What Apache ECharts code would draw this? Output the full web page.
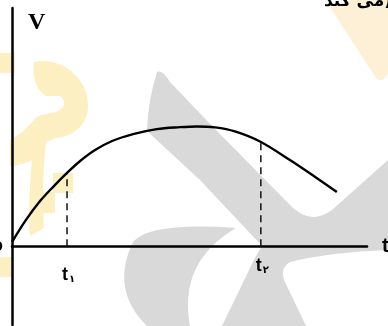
<!DOCTYPE html>
<html>
<head>
<meta charset="utf-8">
<script src="https://cdn.jsdelivr.net/npm/echarts@6/dist/echarts.min.js"></script>
<style>
  html, body { margin: 0; padding: 0; background: #fff; }
  #chart { width: 388px; height: 326px; }
</style>
</head>
<body>
<div id="chart"></div>
<script>
// Velocity–time curve: rises, peaks, then falls
var times = [0, 3.7, 7.9, 11.8, 15.5, 19.2, 23.4, 28.2, 34.1, 40.8, 47.3, 52.1, 57.2, 62.8, 70.1, 78.3, 85.4, 91.5];
var speeds = [1.8, 10.6, 19.0, 25.3, 30.8, 35.8, 40.4, 44.2, 47.1, 49.2, 50.0, 50.3, 49.9, 48.2, 43.8, 36.2, 29.1, 22.8];

// Marked instants t1 and t2 (indices into the arrays above)
var markedIdx = [4, 14];
var markedNames = ['۱', '۲'];

var chart = echarts.init(document.getElementById('chart'), null, { renderer: 'canvas' });

var curve = times.map(function (t, i) { return [t, speeds[i]]; });

var dashed = markedIdx.map(function (k) {
  return {
    type: 'line',
    data: [[times[k], 0], [times[k], speeds[k]]],
    symbol: 'none',
    silent: true,
    z: 5,
    lineStyle: { color: '#111', width: 1.5, type: [7, 5] }
  };
});

// Faint background logo shapes (page pixel paths)
var GRAY = '#d9d9d9', YELLOW = '#fcf0c2', PEACH = '#fdf0d6';
var logoShapes = [
  [GRAY, 'M157,72 C162,70 166,76 170,82 L213,127 L290,205 Q310,226 332,210 L388,160 L388,250 ' +
         'Q330,252 290,262 Q280,268 284,280 L306,326 L222,326 L250,268 Q256,255 262,246 ' +
         'L200,180 L147,131 Q148,100 157,72 Z'],
  [GRAY, 'M133,242 Q150,222 236,228 Q178,262 190,326 L147,326 Q110,290 133,242 Z'],
  [PEACH, 'M330,7 L352,0 L388,0 L388,74 Q382,84 376,78 Z'],
  [YELLOW, 'M0,53 L15,53 L15,73 L0,73 Z'],
  [YELLOW, 'M34,62 C60,56 90,78 88,108 C86,128 72,136 56,138 L46,142 C44,160 42,190 44,228 ' +
           'L30,236 C28,210 30,180 32,160 C24,164 16,166 10,166 L10,140 C22,134 30,124 38,116 ' +
           'L56,112 C66,108 66,100 60,96 L46,96 C36,90 32,78 34,62 Z'],
  [YELLOW, 'M53,173 L73,173 L73,193 L55,193 L55,213 L35,213 L35,192 L53,192 Z'],
  [YELLOW, 'M0,257 L13,257 L13,277 L0,277 Z']
];

var logoSeries = {
  type: 'custom',
  coordinateSystem: 'none',
  silent: true,
  z: 1,
  data: [0],
  renderItem: function () {
    return {
      type: 'group',
      children: logoShapes.map(function (s) {
        return { type: 'path', shape: { pathData: s[1] }, style: { fill: s[0] } };
      })
    };
  }
};

chart.setOption({
  animation: false,
  backgroundColor: '#fff',
  grid: { left: 12, right: 21, top: 8, bottom: 1 },
  xAxis: {
    type: 'value', min: 0, max: 100, z: 5,
    axisLine: { onZero: true, lineStyle: { color: '#000', width: 2.5 } },
    axisTick: { show: false }, axisLabel: { show: false }, splitLine: { show: false }
  },
  yAxis: {
    type: 'value', min: -33, max: 100, z: 5,
    axisLine: { lineStyle: { color: '#000', width: 2.5 } },
    axisTick: { show: false }, axisLabel: { show: false }, splitLine: { show: false }
  },
  series: [logoSeries, {
    type: 'line',
    data: curve,
    smooth: 0.35,
    symbol: 'none',
    z: 6,
    lineStyle: { color: '#000', width: 2.4 }
  }].concat(dashed)
});

// Text labels placed from the data positions
var labelEls = [];
markedIdx.forEach(function (k, i) {
  var p = chart.convertToPixel({ gridIndex: 0 }, [times[k], 0]);
  labelEls.push({
    type: 'text', z: 10,
    x: p[0] - 5, y: p[1] + (i === 0 ? 20 : 11),
    style: {
      text: '{t|t}{s|' + markedNames[i] + '}',
      rich: {
        t: { fontFamily: 'Liberation Sans', fontWeight: 'bold', fontSize: 18, fill: '#000' },
        s: { fontFamily: 'DejaVu Sans', fontWeight: 'bold', fontSize: 10, fill: '#000',
             padding: [8, 0, 0, 1] }
      }
    }
  });
});

var origin = chart.convertToPixel({ gridIndex: 0 }, [0, 0]);
labelEls.push(
  { type: 'text', z: 10, x: 28, y: 11,
    style: { text: 'V', fontFamily: 'Liberation Serif', fontWeight: 'bold', fontSize: 24, fill: '#000' } },
  { type: 'text', z: 10, x: origin[0] - 9, y: origin[1] - 6,
    style: { text: 'O', fontFamily: 'Liberation Serif', fontWeight: 'bold', fontSize: 14, fill: '#000', align: 'right' } },
  { type: 'text', z: 10, x: 382, y: origin[1] - 10,
    style: { text: 't', fontFamily: 'Liberation Sans', fontWeight: 'bold', fontSize: 20, fill: '#000' } },
  { type: 'text', z: 10, x: 392, y: -7,
    style: { text: 'می کند)', fontFamily: 'DejaVu Sans', fontWeight: 'bold', fontSize: 17, fill: '#000', align: 'right' } }
);

chart.setOption({ graphic: labelEls });
</script>
</body>
</html>
